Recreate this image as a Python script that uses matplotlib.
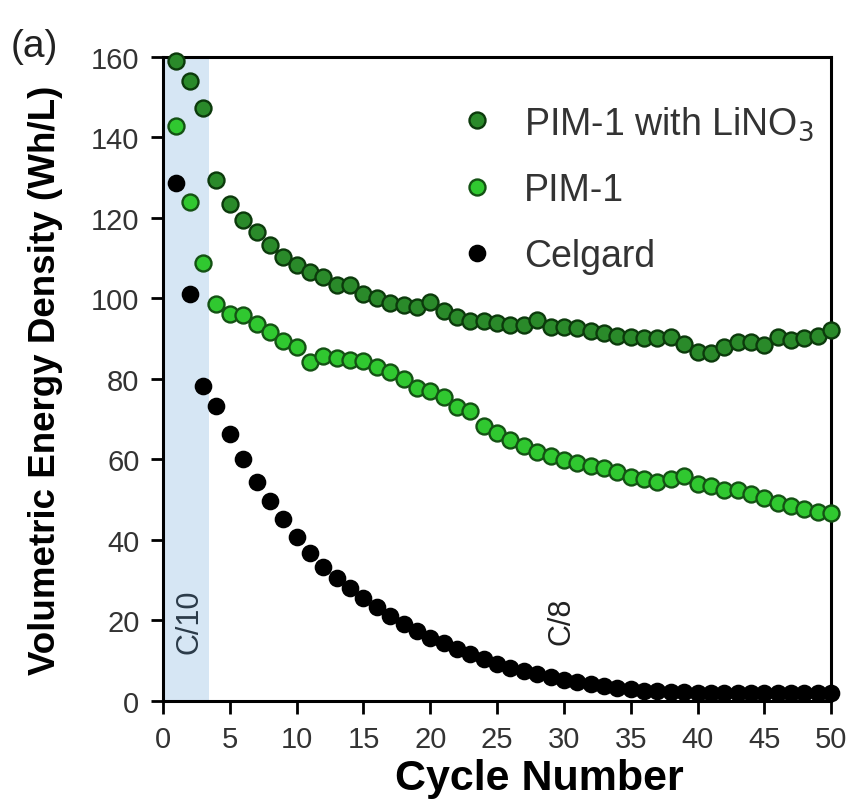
import matplotlib
matplotlib.use("Agg")
import matplotlib.pyplot as plt
from matplotlib.lines import Line2D

plt.rcParams['font.family'] = ['Liberation Sans', 'DejaVu Sans']

cycles = list(range(1, 51))

pim1_lino3 = [159.0, 154.0, 147.2, 129.4, 123.5, 119.4, 116.5, 113.4, 110.3, 108.3,
              106.5, 105.4, 103.3, 103.4, 101.2, 100.0, 98.9, 98.3, 98.0, 99.2,
              96.8, 95.5, 94.3, 94.3, 93.8, 93.4, 93.4, 94.6, 93.0, 93.0,
              92.6, 91.8, 91.3, 90.8, 90.5, 90.1, 90.1, 90.5, 88.8, 86.8,
              86.4, 88.0, 89.2, 89.2, 88.4, 90.5, 89.7, 90.1, 90.7, 92.1]

pim1 = [142.8, 124.0, 108.8, 98.7, 96.1, 96.0, 93.7, 91.6, 89.5, 87.9,
        84.1, 85.8, 85.1, 84.8, 84.5, 82.9, 81.7, 80.0, 77.7, 76.9,
        75.4, 73.0, 72.1, 68.4, 66.6, 64.9, 63.4, 61.9, 60.9, 59.9,
        59.1, 58.5, 57.8, 56.8, 55.6, 55.2, 54.3, 55.2, 56.0, 54.0,
        53.3, 52.3, 52.5, 51.4, 50.4, 49.2, 48.5, 47.7, 47.0, 46.7]

celgard = [128.7, 101.1, 78.2, 73.4, 66.3, 60.0, 54.5, 49.8, 45.1, 40.7,
           36.8, 33.2, 30.5, 28.0, 25.6, 23.3, 21.2, 19.2, 17.3, 15.7,
           14.3, 12.9, 11.6, 10.4, 9.3, 8.3, 7.4, 6.6, 5.9, 5.2,
           4.6, 4.1, 3.6, 3.2, 2.9, 2.6, 2.4, 2.3, 2.2, 2.1,
           2.0, 2.0, 2.0, 2.0, 2.0, 2.0, 2.0, 2.0, 2.0, 2.0]

series_labels = ["PIM-1 with LiNO$_3$", "PIM-1", "Celgard"]
x_ticks = [0, 5, 10, 15, 20, 25, 30, 35, 40, 45, 50]
y_ticks = [0, 20, 40, 60, 80, 100, 120, 140, 160]
c10_end = 3.45

fig = plt.figure(figsize=(8.49, 8.03), dpi=100)
ax = fig.add_axes([0.192, 0.1258, 0.787, 0.802])

ax.axvspan(0, c10_end, color='#d6e6f4', zorder=0, lw=0)

dark_fill, dark_edge = '#2a8a2a', '#0c3a0c'
light_fill, light_edge = '#30c830', '#145214'
ms = 11.5

ax.plot(cycles, celgard, 'o', ms=ms, mfc='black', mec='black', mew=1.2,
        zorder=3, clip_on=False)
ax.plot(cycles, pim1, 'o', ms=ms, mfc=light_fill, mec=light_edge, mew=1.7,
        zorder=4, clip_on=False)
ax.plot(cycles, pim1_lino3, 'o', ms=ms, mfc=dark_fill, mec=dark_edge, mew=1.7,
        zorder=5, clip_on=False)

ax.set_xlim(0, 50)
ax.set_ylim(0, 160)
ax.set_xticks(x_ticks)
ax.set_yticks(y_ticks)
ax.tick_params(direction='out', length=9, width=2, labelsize=21,
               labelcolor='#333333', pad=8)
for s in ax.spines.values():
    s.set_linewidth(2.2)

ax.set_xlabel("Cycle Number", fontsize=31, fontweight='bold')
ax.xaxis.set_label_coords(0.564, -0.088)
ax.set_ylabel("Volumetric Energy Density (Wh/L)", fontsize=26.5,
              fontweight='bold')
ax.yaxis.set_label_coords(-0.149, 0.5)

ax.text(2.0, 20, "C/10", rotation=90, ha='center', va='center',
        fontsize=22, color='#2b3a48')
ax.text(29.8, 20, "C/8", rotation=90, ha='center', va='center',
        fontsize=22, color='#222222')

handles = [
    Line2D([], [], ls='none', marker='o', ms=11.5, mfc=dark_fill, mec=dark_edge, mew=1.7),
    Line2D([], [], ls='none', marker='o', ms=11.5, mfc=light_fill, mec=light_edge, mew=1.7),
    Line2D([], [], ls='none', marker='o', ms=11.5, mfc='black', mec='black', mew=1.2),
]
leg = ax.legend(handles, series_labels, loc='upper left',
                bbox_to_anchor=(0.42, 0.95), frameon=False, fontsize=27,
                handletextpad=0.75, labelspacing=0.8, handlelength=1.0,
                borderaxespad=0)
for t in leg.get_texts():
    t.set_color('#333333')

fig.text(0.012, 0.942, "(a)", fontsize=28, ha='left', va='center', color='#222222')

fig.savefig("out.png", dpi=100)
